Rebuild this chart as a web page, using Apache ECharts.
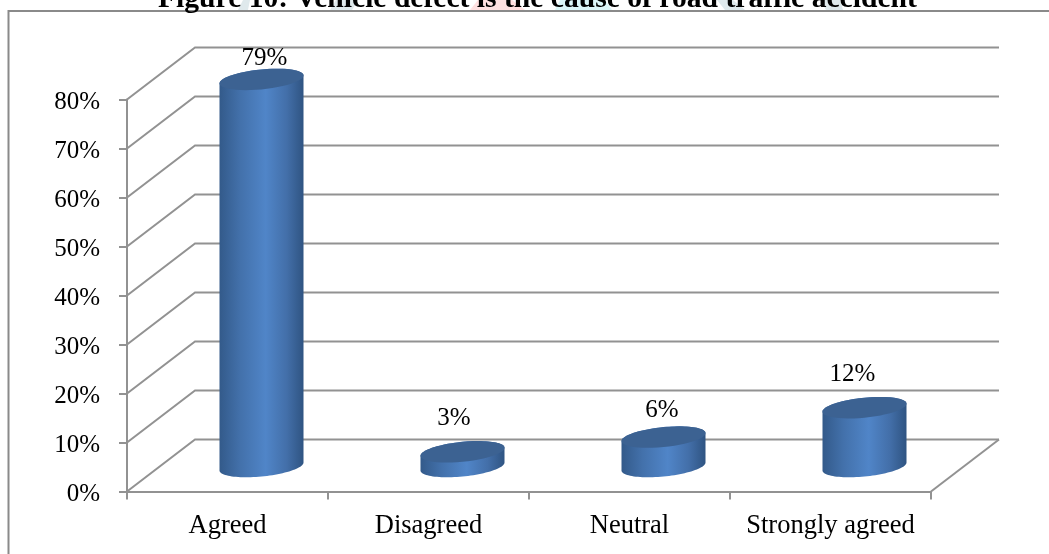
<!DOCTYPE html>
<html>
<head>
<meta charset="utf-8">
<style>html,body{margin:0;padding:0;background:#fff}#chart{width:1049px;height:554px}</style>
<script src="https://cdn.jsdelivr.net/npm/echarts@6/dist/echarts.min.js"></script>
</head>
<body>
<div id="chart"></div>
<script>
const titleText = 'Figure 10: Vehicle defect is the cause of road traffic accident';
const categories = ['Agreed', 'Disagreed', 'Neutral', 'Strongly agreed'];
const percentages = [79, 3, 6, 12];
const wallTicks = [0, 10, 20, 30, 40, 50, 60, 70, 80];

const serif = '"Liberation Serif", "Times New Roman", serif';
const gridColor = '#929292';
const depthX = 68, depthY = 52;      // how far the back wall sits behind the front plane
const radiusX = 42, radiusY = 10;    // cylinder cap radii
const capTilt = 0.095;               // caps lean up to the right
const labelLift = [21, 33.5, 27, 34];   // gap between each cap and its value label
const labelShift = [3, -8.5, -1.5, -12]; // sideways nudge of each value label

// Points along a leaning ellipse between two parameter angles.
function capArc(cx, cy, from, to) {
  const pts = [];
  const steps = 48;
  for (let i = 0; i <= steps; i++) {
    const t = from + (to - from) * i / steps;
    const dx = radiusX * Math.cos(t);
    pts.push([cx + dx, cy + radiusY * Math.sin(t) - capTilt * dx]);
  }
  return pts;
}

function renderWall(params, api) {
  const cs = params.coordSys;
  const y = api.coord([0, api.value(1)])[1];
  const x0 = cs.x, x1 = cs.x + cs.width;
  const points = [[x0, y], [x0 + depthX, y - depthY], [x1 + depthX, y - depthY]];
  const children = [{
    type: 'polyline',
    shape: { points },
    style: { stroke: gridColor, lineWidth: 2, fill: null }
  }];
  if (api.value(1) === 0) {
    children.push({
      type: 'line',
      shape: { x1: x1, y1: y, x2: x1 + depthX, y2: y - depthY },
      style: { stroke: gridColor, lineWidth: 2 }
    });
  }
  return { type: 'group', children };
}

function renderCylinder(params, api) {
  const value = api.value(1);
  const base = api.coord([api.value(0), 0]);
  const top = api.coord([api.value(0), value]);
  const cx = base[0] + depthX / 2;
  const baseY = base[1] - depthY / 2 + 1;
  const topY = top[1] - depthY / 2 + 1;
  const body = capArc(cx, baseY, 0, Math.PI).concat(capArc(cx, topY, Math.PI, 2 * Math.PI));
  const side = {
    type: 'linear', x: 0, y: 0, x2: 1, y2: 0,
    colorStops: [
      { offset: 0, color: '#335a8a' },
      { offset: 0.25, color: '#4371ab' },
      { offset: 0.55, color: '#5085c8' },
      { offset: 0.8, color: '#436fa9' },
      { offset: 1, color: '#2f5482' }
    ]
  };
  return {
    type: 'group',
    children: [
      { type: 'polygon', shape: { points: body }, style: { fill: side } },
      {
        type: 'polygon',
        shape: { points: capArc(cx, topY, 0, 2 * Math.PI) },
        style: { fill: '#3c6292' }
      },
      {
        type: 'text',
        style: {
          x: cx + labelShift[params.dataIndex],
          y: topY + 0.5 - labelLift[params.dataIndex],
          text: value + '%',
          fill: '#000', font: '25px ' + serif,
          align: 'center', verticalAlign: 'middle'
        }
      }
    ]
  };
}

const chart = echarts.init(document.getElementById('chart'), null, { renderer: 'canvas' });
chart.setOption({
  animation: false,
  backgroundColor: '#fff',
  title: {
    text: titleText,
    left: 153,
    top: -21,
    textStyle: { fontFamily: serif, fontSize: 29.6, fontWeight: 'bold', color: '#000' }
  },
  grid: { left: 127, right: 118, top: 99.5, bottom: 62.5 },
  xAxis: {
    type: 'category',
    data: categories,
    axisLine: { lineStyle: { color: gridColor, width: 2 } },
    axisTick: { show: true, interval: 0, length: 8, lineStyle: { color: gridColor, width: 2 } },
    axisLabel: { interval: 0, hideOverlap: false, fontFamily: serif, fontSize: 26.5, color: '#000', margin: 21 }
  },
  yAxis: {
    type: 'value',
    min: 0,
    max: 80,
    interval: 10,
    axisLine: { show: true, lineStyle: { color: gridColor, width: 2 } },
    axisTick: { show: true, length: 8, lineStyle: { color: gridColor, width: 2 } },
    axisLabel: {
      formatter: '{pct|{value}%}',
      margin: 27,
      rich: { pct: { fontFamily: serif, fontSize: 25, color: '#000', padding: [6, 0, 0, 0] } }
    },
    splitLine: { show: false }
  },
  series: [
    {
      type: 'custom',
      name: 'wall',
      renderItem: renderWall,
      data: wallTicks.map(v => [0, v]),
      silent: true,
      clip: false,
      z: 1
    },
    {
      type: 'custom',
      name: 'share',
      renderItem: renderCylinder,
      data: percentages.map((v, i) => [i, v]),
      clip: false,
      z: 3
    }
  ],
  graphic: [
    // Page frame around the plot
    { type: 'polyline', z: -1, shape: { points: [[8.5, 554], [8.5, 11], [1049, 11]] }, style: { stroke: '#8a8a8a', lineWidth: 2, fill: null } },
    // Faint page-background shapes behind the heading
    { type: 'polygon', z: -2, shape: { points: [[243, 0], [250, 0], [248, 10], [238, 10]] }, style: { fill: '#dfe9ec' } },
    { type: 'polygon', z: -2, shape: { points: [[336, 0], [358, 0], [352, 10], [330, 10]] }, style: { fill: '#dfe9ec' } },
    { type: 'polygon', z: -2, shape: { points: [[478, 0], [512, 0], [525, 10], [470, 10]] }, style: { fill: '#ffe1e1' } },
    { type: 'polygon', z: -2, shape: { points: [[560, 0], [605, 0], [612, 10], [555, 10]] }, style: { fill: '#dcf6f8' } },
    { type: 'polygon', z: -2, shape: { points: [[717, 0], [733, 0], [745, 10], [725, 10]] }, style: { fill: '#dfe9ec' } },
    { type: 'polygon', z: -2, shape: { points: [[820, 0], [840, 0], [843, 10], [826, 10]] }, style: { fill: '#dfe9ec' } }
  ]
});
</script>
</body>
</html>
